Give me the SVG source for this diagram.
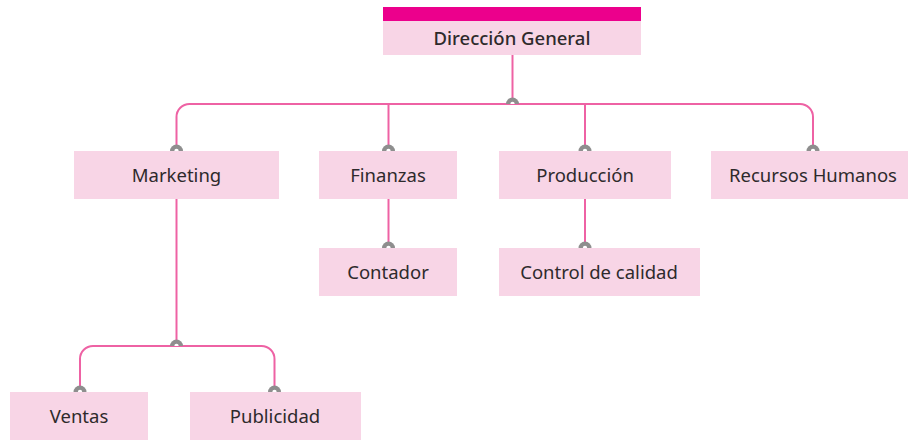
<svg xmlns="http://www.w3.org/2000/svg" width="908" height="440" viewBox="0 0 908 440">
<style>
.box{fill:#f8d5e6}
.bar{fill:#ec008c}
.t{font-family:"Noto Sans","Liberation Sans",sans-serif;font-size:18.5px;fill:#2e2a2c;text-anchor:middle}
.tb{font-weight:500}
.ln{fill:none;stroke:#ee62a4;stroke-width:2}
.dot{fill:#8e8e8e}
.hole{fill:#fff}
</style>
<defs>
<g id="d"><path class="dot" d="M-6.5,0A6.5,6.5 0 0 1 6.5,0Z"/><path class="hole" d="M-2.2,0A2.2,2.2 0 0 1 2.2,0Z"/></g>
</defs>
<rect width="908" height="440" fill="#fff"/>
<g id="connectors">
<path class="ln" d="M512.5,55V104"/>
<path class="ln" d="M176.5,151V117A13,13 0 0 1 189.5,104H800A13,13 0 0 1 813,117V151"/>
<path class="ln" d="M388.5,104V151"/>
<path class="ln" d="M585,104V151"/>
<path class="ln" d="M388.5,199V248"/>
<path class="ln" d="M585,199V248"/>
<path class="ln" d="M176.5,199V346"/>
<path class="ln" d="M80,392V359A13,13 0 0 1 93,346H261.5A13,13 0 0 1 274.5,359V392"/>
<use href="#d" x="512.5" y="104"/>
<use href="#d" x="176.5" y="346"/>
<use href="#d" x="176.5" y="151"/>
<use href="#d" x="388.5" y="151"/>
<use href="#d" x="585" y="151"/>
<use href="#d" x="813" y="151"/>
<use href="#d" x="388.5" y="248"/>
<use href="#d" x="585" y="248"/>
<use href="#d" x="80" y="392"/>
<use href="#d" x="274.5" y="392"/>
</g>
<g id="direccion"><rect class="bar" x="383" y="7" width="258" height="14"/><rect class="box" x="383" y="21" width="258" height="34"/><text class="t tb" x="512" y="44.5">Dirección General</text></g>
<g id="marketing"><rect class="box" x="74" y="151" width="205" height="48"/><text class="t" x="176.5" y="182">Marketing</text></g>
<g id="finanzas"><rect class="box" x="319" y="151" width="138" height="48"/><text class="t" x="388" y="182">Finanzas</text></g>
<g id="produccion"><rect class="box" x="499" y="151" width="172" height="48"/><text class="t" x="585" y="182">Producción</text></g>
<g id="rrhh"><rect class="box" x="711" y="151" width="197" height="48"/><text class="t" x="813" y="182">Recursos Humanos</text></g>
<g id="contador"><rect class="box" x="319" y="248" width="138" height="48"/><text class="t" x="388" y="279">Contador</text></g>
<g id="calidad"><rect class="box" x="499" y="248" width="201" height="48"/><text class="t" x="599" y="279">Control de calidad</text></g>
<g id="ventas"><rect class="box" x="10" y="392" width="138" height="48"/><text class="t" x="79" y="423">Ventas</text></g>
<g id="publicidad"><rect class="box" x="190" y="392" width="171" height="48"/><text class="t" x="275" y="423">Publicidad</text></g>
</svg>
